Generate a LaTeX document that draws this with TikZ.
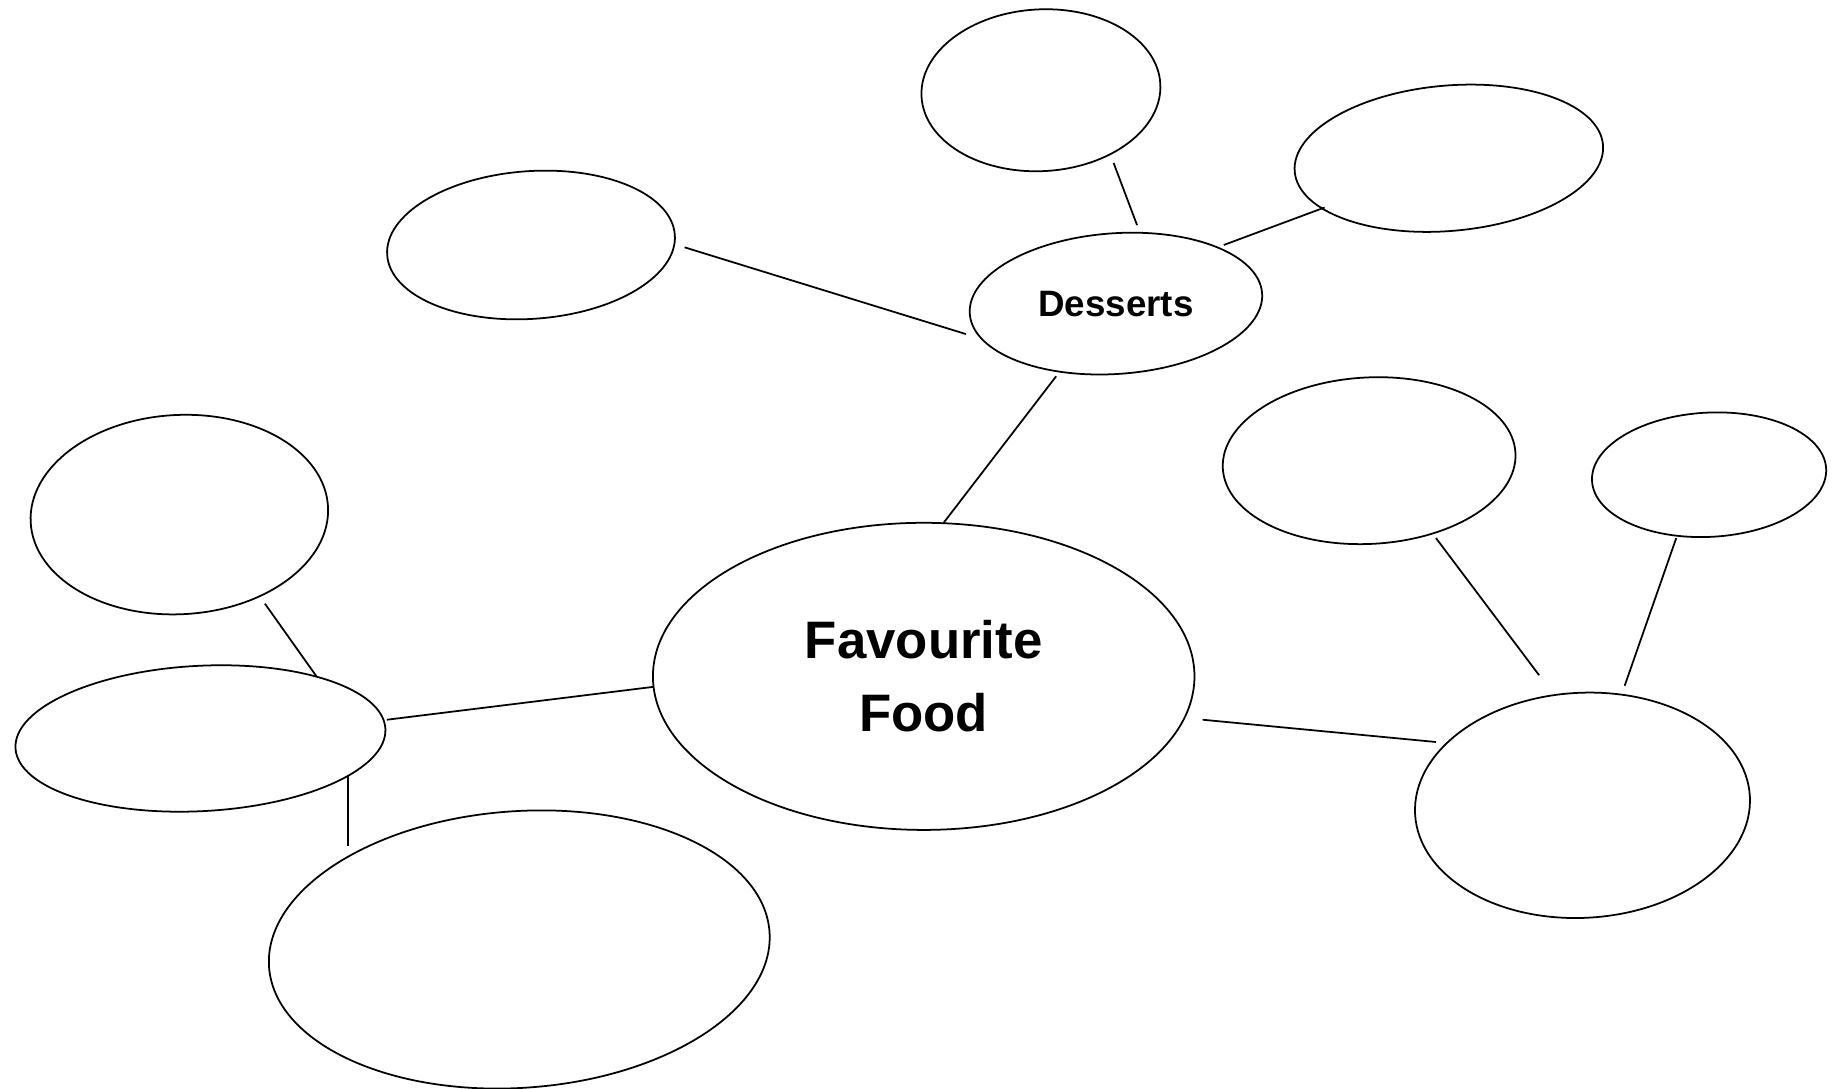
\documentclass[tikz,border=0pt]{standalone}
\usepackage{fontspec}
\setmainfont{Liberation Sans}
\usetikzlibrary{shapes.geometric}
\tikzset{
  bub/.style 2 args={ellipse, draw, line width=0.9pt, minimum width=#1*1.2pt, minimum height=#2*1.2pt, inner sep=0pt, outer sep=0pt},
  link/.style={line width=0.9pt}
}
\begin{document}
\begin{tikzpicture}[x=0.6pt,y=-0.6pt]
\useasboundingbox (0,0) rectangle (1568,929);
% bubbles
\node[bub={102}{69}, rotate=3] (topsmall) at (888,77) {};
\node[bub={132}{62}, rotate=5] (topright) at (1236,135) {};
\node[bub={123}{63}, rotate=4] (leftupper) at (453,209) {};
\node[bub={125}{60}, rotate=4] (desserts) at (952,259) {\rotatebox{-4}{\fontsize{18.8}{22}\selectfont\bfseries Desserts}};
\node[bub={127}{85}, rotate=3] (farleft) at (153,439) {};
\node[bub={158}{62}, rotate=3] (leftmid) at (171,630) {};
\node[bub={214}{118}, rotate=4] (bottomleft) at (443,810) {};
\node[bub={231}{131}, align=center, font=\fontsize{27}{37.2}\selectfont\bfseries] (food) at (788,577) {Favourite\\Food};
\node[bub={125}{71}, rotate=3] (rightupper) at (1168,393) {};
\node[bub={100}{53}, rotate=3] (farright) at (1458,405) {};
\node[bub={143}{96}, rotate=3] (rightlower) at (1350,687) {};
% connector ends
\coordinate (c1a) at (950,139); \coordinate (c1b) at (970,192);
\coordinate (c2a) at (1044,209); \coordinate (c2b) at (1130,177);
\coordinate (c3a) at (584,211); \coordinate (c3b) at (824,285);
\coordinate (c4a) at (901,321); \coordinate (c4b) at (805,446);
\coordinate (c5a) at (226,515); \coordinate (c5b) at (270,577);
\coordinate (c6a) at (330,614); \coordinate (c6b) at (557,586);
\coordinate (c7a) at (297,662); \coordinate (c7b) at (297,722);
\coordinate (c8a) at (1026,614); \coordinate (c8b) at (1225,633);
\coordinate (c9a) at (1225,459); \coordinate (c9b) at (1313,576);
\coordinate (c10a) at (1430,459); \coordinate (c10b) at (1386,585);
\draw[link] (c1a) -- (c1b);
\draw[link] (c2a) -- (c2b);
\draw[link] (c3a) -- (c3b);
\draw[link] (c4a) -- (c4b);
\draw[link] (c5a) -- (c5b);
\draw[link] (c6a) -- (c6b);
\draw[link] (c7a) -- (c7b);
\draw[link] (c8a) -- (c8b);
\draw[link] (c9a) -- (c9b);
\draw[link] (c10a) -- (c10b);
\end{tikzpicture}
\end{document}
